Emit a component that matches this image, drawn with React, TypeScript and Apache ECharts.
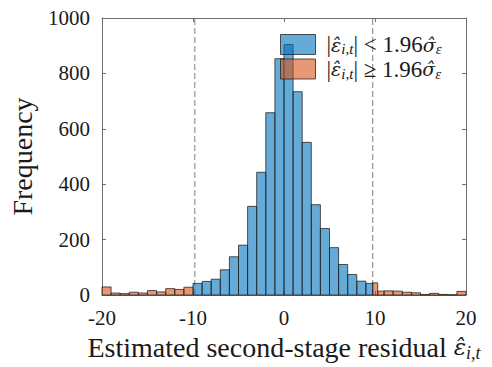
import React, { useEffect, useRef } from 'react';
import * as echarts from 'echarts';

// Bin edges and counts
const BLUE_EDGES = [-10, -9, -8, -7, -6, -5, -4, -3, -2, -1, 0, 1, 2, 3, 4, 5, 6, 7, 8, 9, 9.75];
const BLUE_COUNTS = [42, 49, 57, 91, 138, 180, 320, 443, 658, 853, 904, 734, 551, 326, 240, 171, 110, 74, 50, 42];
const ORANGE_EDGES_LEFT = [-20, -19, -18, -17, -16, -15, -14, -13, -12, -11, -10];
const ORANGE_COUNTS_LEFT = [29, 7, 5, 10, 7, 16, 11, 23, 20, 28];
const ORANGE_EDGES_RIGHT = [9.75, 10.3, 11, 12, 13, 14, 15, 16, 17, 18, 19, 20];
const ORANGE_COUNTS_RIGHT = [44, 14, 15, 14, 10, 8, 2, 6, 2, 1, 13];
const THRESHOLDS = [-9.8, 9.75];

const X_MIN = -20;
const X_MAX = 20;
const X_INTERVAL = 10;
const Y_MIN = 0;
const Y_MAX = 1000;
const Y_INTERVAL = 200;

const NAME_IN = '|ε̂i,t| < 1.96σ̂ε';
const NAME_OUT = '|ε̂i,t| ≥ 1.96σ̂ε';
const X_LABEL = 'Estimated second-stage residual ';
const Y_LABEL = 'Frequency';

const FONT = 'Liberation Serif';
const GREEK_FONT = 'DejaVu Serif';
const BLUE = 'rgba(0,114,189,0.6)';
const ORANGE = 'rgba(217,83,25,0.6)';
const EDGE = 'rgba(30,30,30,0.75)';
const AXIS = '#6e6e6e';
const TEXT = '#1a1a1a';

function toBins(edges: number[], counts: number[]) {
  return counts.map((c, i) => [edges[i], edges[i + 1], c]);
}

function histSeries(name: string, data: number[][], fill: string) {
  return {
    type: 'custom',
    name,
    xAxisIndex: 0,
    yAxisIndex: 0,
    data,
    encode: { x: [0, 1], y: 2 },
    renderItem: (params: any, api: any) => {
      const p0 = api.coord([api.value(0), api.value(2)]);
      const p1 = api.coord([api.value(1), 0]);
      return {
        type: 'rect',
        shape: { x: p0[0], y: p0[1], width: p1[0] - p0[0], height: p1[1] - p0[1] },
        style: { fill, stroke: EDGE, lineWidth: 1 },
      };
    },
  };
}

export default function App() {
  const ref = useRef<HTMLDivElement>(null);
  useEffect(() => {
    if (!ref.current) return;
    const chart = echarts.init(ref.current, undefined, { renderer: 'svg' });
    const legendRich = {
      b: { fontFamily: FONT, fontSize: 23, lineHeight: 24, color: TEXT, padding: [0, 0, 0, 6] },
      m: { fontFamily: FONT, fontSize: 23, lineHeight: 24, color: TEXT },
      e: { fontFamily: GREEK_FONT, fontSize: 19, lineHeight: 24, fontStyle: 'italic', color: TEXT },
      s: { fontFamily: FONT, fontSize: 15, lineHeight: 13, fontStyle: 'italic', color: TEXT, verticalAlign: 'bottom' },
    };
    const axisCommon = {
      axisLine: { show: true, onZero: false, lineStyle: { color: AXIS, width: 1 } },
      axisTick: { show: true, inside: true, length: 4, lineStyle: { color: AXIS, width: 1 } },
      splitLine: { show: false },
    };
    chart.setOption({
      animation: false,
      backgroundColor: '#ffffff',
      textStyle: { fontFamily: FONT },
      grid: { left: 102, top: 18, width: 364, height: 279, containLabel: false },
      legend: {
        orient: 'vertical',
        left: 280,
        top: 33,
        padding: 0,
        itemGap: 1,
        itemWidth: 35,
        itemHeight: 20,
        selectedMode: false,
        data: [
          { name: NAME_IN, icon: 'rect', itemStyle: { color: BLUE, borderColor: EDGE, borderWidth: 1 } },
          { name: NAME_OUT, icon: 'rect', itemStyle: { color: ORANGE, borderColor: EDGE, borderWidth: 1 } },
        ],
        formatter: (name: string) =>
          name === NAME_IN
            ? '{b||}{e|ε̂}{s|i,t}{m|| < 1.96}{e|σ̂}{s|ε}'
            : '{b||}{e|ε̂}{s|i,t}{m|| ≥ 1.96}{e|σ̂}{s|ε}',
        textStyle: { fontFamily: FONT, fontSize: 23, rich: legendRich },
      },
      xAxis: [
        {
          type: 'value',
          position: 'bottom',
          min: X_MIN,
          max: X_MAX,
          interval: X_INTERVAL,
          ...axisCommon,
          axisLabel: {
            show: true,
            margin: 12,
            fontFamily: FONT,
            fontSize: 21,
            color: TEXT,
            formatter: (v: number) => String(v),
          },
          name: '{m|' + X_LABEL + '}{e|ε̂}{s|i,t}',
          nameLocation: 'middle',
          nameGap: 37,
          nameTextStyle: {
            fontFamily: FONT,
            fontSize: 28,
            rich: {
              m: { fontFamily: FONT, fontSize: 28, lineHeight: 30, color: TEXT },
              e: { fontFamily: GREEK_FONT, fontSize: 23, lineHeight: 30, fontStyle: 'italic', color: TEXT },
              s: { fontFamily: FONT, fontSize: 18, lineHeight: 16, fontStyle: 'italic', color: TEXT, verticalAlign: 'bottom' },
            },
          },
        },
        {
          type: 'value',
          position: 'top',
          min: X_MIN,
          max: X_MAX,
          interval: X_INTERVAL,
          ...axisCommon,
          axisLabel: { show: false },
        },
      ],
      yAxis: [
        {
          type: 'value',
          position: 'left',
          min: Y_MIN,
          max: Y_MAX,
          interval: Y_INTERVAL,
          ...axisCommon,
          axisLabel: {
            show: true,
            margin: 12,
            fontFamily: FONT,
            fontSize: 21,
            color: TEXT,
            formatter: (v: number) => String(v),
          },
          name: Y_LABEL,
          nameLocation: 'middle',
          nameGap: 66,
          nameTextStyle: { fontFamily: FONT, fontSize: 28, color: TEXT },
        },
        {
          type: 'value',
          position: 'right',
          min: Y_MIN,
          max: Y_MAX,
          interval: Y_INTERVAL,
          ...axisCommon,
          axisLabel: { show: false },
        },
      ],
      series: [
        ...THRESHOLDS.map((t) => ({
          type: 'line',
          xAxisIndex: 0,
          yAxisIndex: 0,
          data: [[t, Y_MIN], [t, Y_MAX]],
          symbol: 'none',
          silent: true,
          lineStyle: { color: '#808080', width: 1, type: [6, 3] },
          z: 1,
        })),
        { ...histSeries(NAME_IN, toBins(BLUE_EDGES, BLUE_COUNTS), BLUE), z: 2 },
        {
          ...histSeries(
            NAME_OUT,
            [...toBins(ORANGE_EDGES_LEFT, ORANGE_COUNTS_LEFT), ...toBins(ORANGE_EDGES_RIGHT, ORANGE_COUNTS_RIGHT)],
            ORANGE
          ),
          z: 3,
        },
      ],
    });
    return () => chart.dispose();
  }, []);
  return (
    <div
      ref={ref}
      style={{ position: 'fixed', left: 0, top: 0, width: 492, height: 367, background: '#fff' }}
    />
  );
}
